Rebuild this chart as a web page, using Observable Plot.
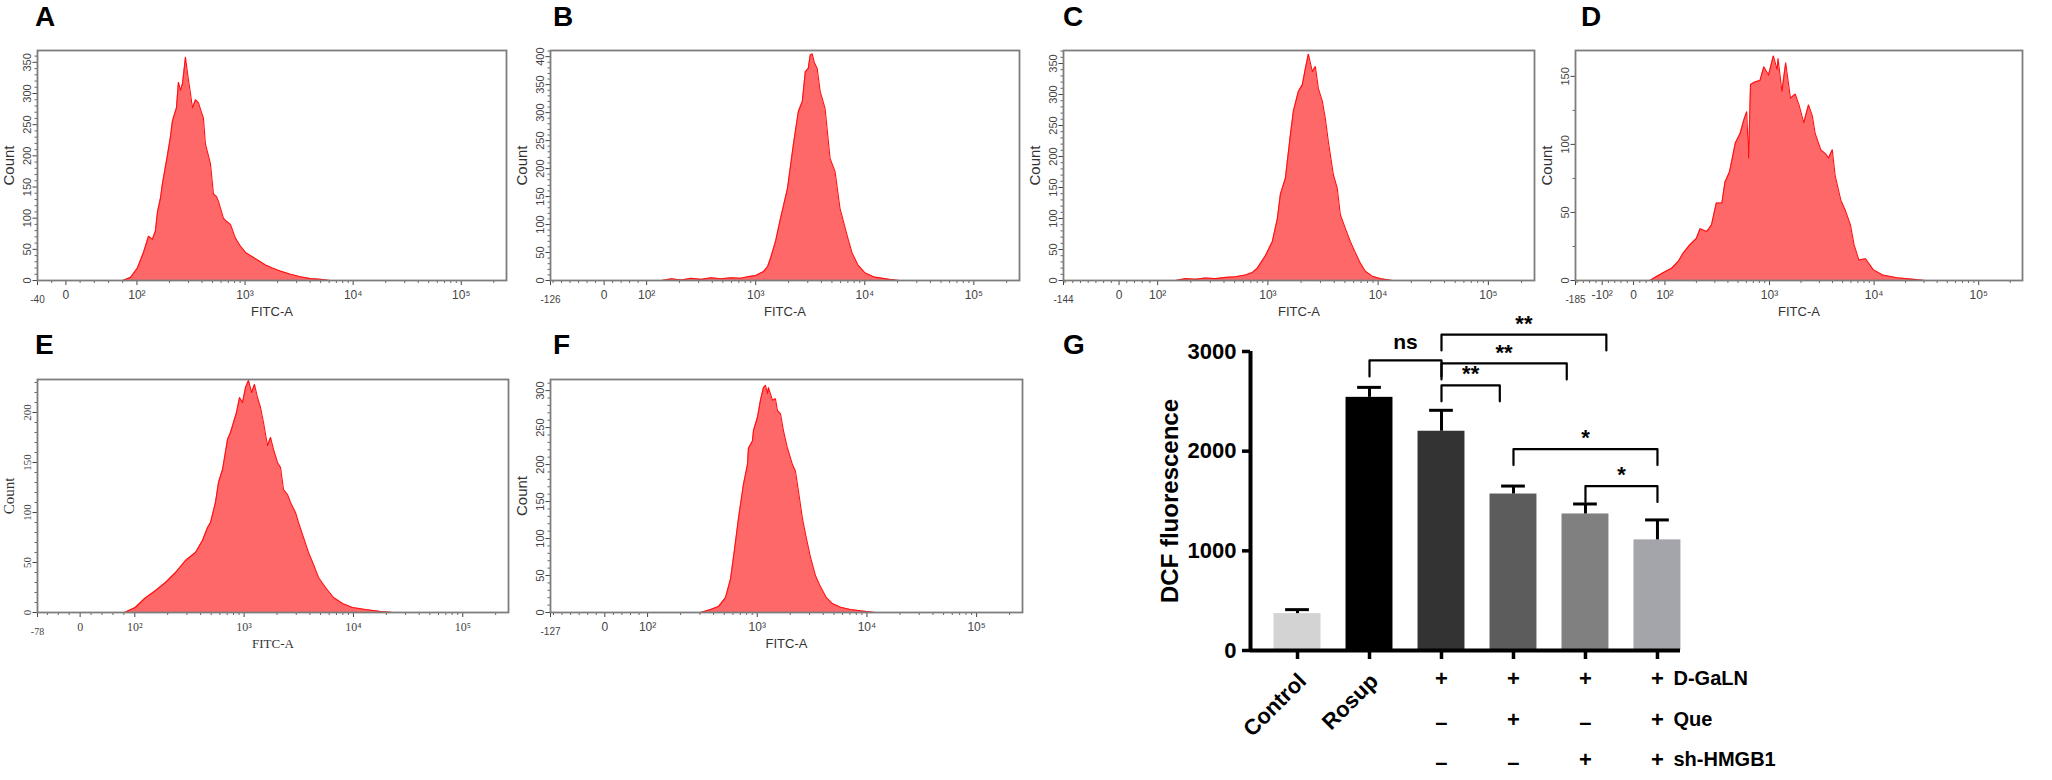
<!DOCTYPE html>
<html><head><meta charset="utf-8">
<script src="https://cdn.jsdelivr.net/npm/d3@7"></script>
<script src="https://cdn.jsdelivr.net/npm/@observablehq/plot@0.6"></script>
<style>
body{margin:0;background:#fff;}
#fig{position:relative;width:2052px;height:780px;overflow:hidden;background:#fff;font-family:"Liberation Sans",Arial,sans-serif;}
#fig svg{position:absolute;}
.lab{position:absolute;font-weight:bold;font-size:28px;line-height:28px;color:#000;font-family:"Liberation Sans",Arial,sans-serif;}
</style></head><body><div id="fig"></div>
<script>
// ---------------- DATA ----------------
const panelNames = ["A","B","C","D","E","F","G"];
// flow histograms: FITC-A intensity vs count
const histA_fitc = [80,91,101,115,128,139,148,155,165,172,191,204,213,232,242,253,264,281,300,313,326,348,371,395,412,430,459,479,510,544,568,631,673,733,815,907,1009,1171,1330,1544,1793,2126,2630,3255,4027,4983,6166];
const histA_count = [0,5,20,45,71,66,79,110,132,155,200,230,256,277,318,305,316,358,321,300,277,290,285,270,261,219,200,187,139,135,127,100,95,90,68,55,45,38,32,25,20,15,10,6,3,2,0];
const histB_fitc = [137,169,208,256,316,389,481,593,731,864,1000,1182,1286,1369,1520,1688,1954,2215,2460,2675,2848,3032,3162,3297,3439,3661,3899,4329,4806,5337,5926,6857,7620,8636,10000,12330,16870,20800];
const histB_count = [0,3,1,4,2,5,3,5,4,7,9,16,25,40,70,111,164,243,302,320,373,379,403,405,390,379,338,307,218,195,129,82,50,28,14,6,2,0];
const histC_fitc = [145,179,220,271,334,412,507,625,724,803,949,1098,1219,1298,1441,1600,1703,1890,2055,2188,2329,2532,2696,2870,3120,3321,3536,3925,4267,4543,5043,5598,6214,6896,7656,8859,10470,13450];
const histC_count = [0,3,2,4,3,5,6,9,13,20,40,63,100,139,165,235,273,305,316,342,365,337,345,310,289,261,224,171,148,106,84,63,45,28,15,7,3,0];
const histD_fitc = [52,73,97,116,134,149,172,200,217,251,279,310,351,374,415,471,523,568,605,631,658,730,811,882,979,1087,1182,1207,1313,1427,1585,1760,1913,2125,2359,2565,2732,3097,3439,3661,3981,4240,4807,5339,5927,6445,7154,8283,9790,12070,16530,22620,30970];
const histD_count = [0,3,6,9,14,20,26,31,38,36,41,57,57,72,80,101,108,118,124,90,144,146,147,157,151,165,155,163,139,160,134,137,129,116,129,121,108,96,93,90,96,77,59,51,41,26,15,16,8,4,2,1,0];
const histE_fitc = [81,101,123,155,191,236,291,359,416,463,493,547,583,635,705,751,800,852,908,967,1030,1097,1169,1245,1326,1413,1505,1637,1744,1858,2021,2153,2294,2495,2658,2953,3145,3495,3884,4314,4794,5556,6576,7948,9810,12900,17700,23280];
const histE_count = [0,5,14,22,30,40,52,60,72,85,90,110,130,143,173,180,190,200,215,210,225,232,220,228,215,205,190,167,175,163,150,145,123,118,110,100,90,75,60,48,35,25,15,9,5,3,1,0];
const histF_fitc = [304,375,443,513,570,620,674,748,814,831,904,924,1004,1070,1139,1188,1239,1265,1376,1465,1528,1627,1733,1885,1925,2094,2230,2375,2583,2809,3055,3393,3768,4274,4848,5734,7073,9100,11950];
const histF_count = [0,4,8,20,45,85,127,173,200,222,232,246,264,287,304,307,296,304,287,289,273,269,246,222,218,200,191,164,127,100,75,50,35,20,12,7,4,2,0];
const axisMinValues = [-40,-126,-144,-185,-78,-127];   // lowest FITC-A value shown on each axis
const axisMaxValue = 262144;
const countMax = [369,411,371,169,233,315];
const xTickValues = [0,100,1000,10000,100000];
const xTickLabels = ["0","10²","10³","10⁴","10⁵"];
const extraNegTickValues = [[],[],[],[-100],[],[]];
const extraNegTickLabels = [[],[],[],["-10²"],[],[]];
// bar chart G
const barGroups = ["Control","Rosup","","","",""];
const barValues = [370,2540,2200,1570,1370,1110];
const barErrorTop = [410,2640,2410,1650,1470,1310];
const yTicksG = [0,1000,2000,3000];
const rowNames = ["D-GaLN","Que","sh-HMGB1"];
const rowDGaLN = ["","","+","+","+","+"];
const rowQue = ["","","–","+","–","+"];
const rowSh = ["","","–","–","+","+"];
const sigFrom = [1,2,2,2,3,4];
const sigTo = [2,2.81,3.74,4.29,5,5];
const sigLevel = [2910,2660,2880,3170,2020,1650];
const sigText = ["ns","**","**","**","*","*"];

// ---------------- LAYOUT / STYLE ----------------
const histFitc = [histA_fitc,histB_fitc,histC_fitc,histD_fitc,histE_fitc,histF_fitc];
const histCount = [histA_count,histB_count,histC_count,histD_count,histE_count,histF_count];
const histLayout = [
  {x:37,  y:50,  w:469, h:230, d0:0.657, minor:10},
  {x:550, y:50,  w:469, h:230, d0:0.39,  minor:10},
  {x:1063,y:50,  w:471, h:230, d0:0.35,  minor:10},
  {x:1575,y:50,  w:447, h:230, d0:0.30,  minor:25},
  {x:37,  y:379, w:471, h:233, d0:0.50,  minor:10},
  {x:550, y:379, w:472, h:233, d0:0.39,  minor:10}
];
const labelPos = [[35,3],[553,3],[1063,3],[1581,3],[35,331],[553,331],[1063,331]];
const barFill = ["#d3d3d3","#000000","#333333","#5c5c5c","#808080","#a4a4ab"];
const rowDy = [28, 69, 109];
const fig = document.getElementById("fig");

function biex(d0){ return v => (v < 100 ? d0 * v / 100 : d0 + Math.log10(v / 100)); }

function histogram(k){
  const L = histLayout[k], T = biex(L.d0), min = axisMinValues[k];
  const ml = 46, mr = 8, mt = 8, mb = 48;
  const pts = histFitc[k].map((f,i) => ({x: T(f), y: histCount[k][i]}));
  const majVals = [...extraNegTickValues[k], ...xTickValues];
  const majLabs = [...extraNegTickLabels[k], ...xTickLabels];
  const labelOf = new Map(majVals.map((v,i) => [T(v), majLabs[i]]));
  const minors = [];
  for (let v = Math.ceil(min/20)*20; v < 100; v += 20) if (v !== 0 && !majVals.includes(v)) minors.push(T(v));
  for (const e of [100,1000,10000,100000]) for (let m = 2; m <= 9; m++) if (m*e <= axisMaxValue) minors.push(T(m*e));
  const yMaj = d3.range(0, countMax[k] + 1e-9, 50);
  const yMin = d3.range(0, countMax[k], L.minor).filter(v => v % 50 !== 0);
  const font = k === 4 ? "'Liberation Serif','Times New Roman',serif" : "'Liberation Sans',Arial,sans-serif";
  const svg = Plot.plot({
    width: L.w + ml + mr, height: L.h + mt + mb,
    marginLeft: ml, marginRight: mr, marginTop: mt, marginBottom: mb,
    style: {fontFamily: font, background: "transparent", overflow: "visible"},
    x: {domain: [T(min), T(axisMaxValue)], axis: null},
    y: {domain: [0, countMax[k]], axis: null},
    marks: [
      Plot.areaY(pts, {x: "x", y: "y", fill: "#ff6868"}),
      Plot.lineY(pts, {x: "x", y: "y", stroke: "#ff1010", strokeWidth: 1.1}),
      Plot.axisX(minors, {tickSize: 3, tickFormat: () => "", color: "#666", label: null}),
      Plot.axisX(majVals.map(T), {tickSize: 5, tickPadding: 5, fontSize: 12, tickFormat: t => labelOf.get(t), color: "#444", label: null}),
      Plot.axisX([T(min)], {tickSize: 5, tickPadding: 10, fontSize: 10, tickFormat: () => String(min), color: "#444", label: null}),
      Plot.axisY(yMin, {tickSize: 2.5, tickFormat: () => "", color: "#666", label: null}),
      Plot.axisY(yMaj, {tickSize: 4.5, tickPadding: 2, tickRotate: -90, fontSize: 11, color: "#444", label: null}),
      Plot.text(["Count"], {text: d => d, frameAnchor: "left", dx: -28, rotate: -90, fontSize: 15, fill: "#333", textAnchor: "middle", lineAnchor: "middle"}),
      Plot.text(["FITC-A"], {text: d => d, frameAnchor: "bottom", dy: 31, fontSize: 13, fill: "#333", lineAnchor: "middle"}),
      Plot.frame({stroke: "#7d7d7d", strokeWidth: 1.8})
    ]
  });
  svg.style.left = (L.x - ml) + "px";
  svg.style.top = (L.y - mt) + "px";
  fig.appendChild(svg);
}
for (let k = 0; k < 6; k++) histogram(k);

// ---------------- Panel G ----------------
const xDom = [-0.653, 5.32];
const rowsG = barGroups.map((name,i) => ({i, name, v: barValues[i], e: barErrorTop[i]}));
const leg = 160;
const brk = [];
sigFrom.forEach((a,k) => { const b = sigTo[k], y = sigLevel[k];
  brk.push({k, x: a, y: y - leg}, {k, x: a, y}, {k, x: b, y}, {k, x: b, y: y - leg}); });
const sigMid = sigFrom.map((a,k) => ({x: (a + sigTo[k]) / 2, y: sigLevel[k], t: sigText[k]}));
const signRows = [rowDGaLN, rowQue, rowSh];
const G = Plot.plot({
  width: 760, height: 480, marginLeft: 150, marginRight: 180, marginTop: 51, marginBottom: 130,
  x: {domain: xDom, axis: null},
  y: {domain: [0, 3000], axis: null},
  color: {type: "identity"},
  style: {fontFamily: "'Liberation Sans',Arial,sans-serif", fontWeight: "bold", color: "#000", background: "transparent", overflow: "visible"},
  marks: [
    Plot.rectY(rowsG, {x1: d => d.i - 0.326, x2: d => d.i + 0.326, y1: 0, y2: "v", fill: d => barFill[d.i]}),
    Plot.ruleX(rowsG, {x: "i", y1: "v", y2: "e", stroke: "#000", strokeWidth: 3}),
    Plot.ruleY(rowsG, {y: "e", x1: d => d.i - 0.165, x2: d => d.i + 0.165, stroke: "#000", strokeWidth: 3}),
    Plot.ruleY([0], {stroke: "#000", strokeWidth: 4}),
    Plot.ruleX([xDom[0]], {y1: 0, y2: 3000, stroke: "#000", strokeWidth: 4}),
    Plot.axisY(yTicksG, {tickSize: 8, tickPadding: 6, fontSize: 22, fontWeight: "bold", color: "#000", strokeWidth: 3.5, label: null, tickFormat: d => String(d)}),
    Plot.axisX(rowsG.map(d => d.i), {tickSize: 9, tickFormat: () => "", color: "#000", strokeWidth: 3.5, label: null}),
    Plot.text(rowsG.filter(d => d.name), {x: "i", y: 0, text: "name", rotate: -45, textAnchor: "end", dx: 5, dy: 27, fontSize: 22, fontWeight: "bold"}),
    Plot.text(["DCF fluorescence"], {text: d => d, frameAnchor: "left", dx: -80, rotate: -90, fontSize: 24, fontWeight: "bold", textAnchor: "middle", lineAnchor: "middle"}),
    Plot.line(brk, {x: "x", y: "y", z: "k", stroke: "#000", strokeWidth: 2.2}),
    Plot.text(sigMid.filter(d => d.t === "ns"), {x: "x", y: "y", text: "t", dy: -18, fontSize: 21, fontWeight: "bold"}),
    Plot.text(sigMid.filter(d => d.t !== "ns"), {x: "x", y: "y", text: "t", dy: -11, fontSize: 22, fontWeight: "bold"}),
    ...signRows.map((row,r) => Plot.text(rowsG.filter(d => row[d.i] === "+"), {x: "i", y: 0, text: d => row[d.i], dy: rowDy[r], fontSize: 22, fontWeight: "bold"})),
    ...signRows.map((row,r) => Plot.text(rowsG.filter(d => row[d.i] === "–"), {x: "i", y: 0, text: d => row[d.i], dy: rowDy[r] + 3, fontSize: 22, fontWeight: "bold"})),
    ...rowNames.map((nm,r) => Plot.text([nm], {text: d => d, y: 0, frameAnchor: "right", dx: -7, dy: rowDy[r], textAnchor: "start", fontSize: 20, fontWeight: "bold"}))
  ]
});
G.style.left = "1100px"; G.style.top = "300px";
fig.appendChild(G);

// panel letters
panelNames.forEach((n,i) => {
  const d = document.createElement("div");
  d.className = "lab"; d.textContent = n;
  d.style.left = labelPos[i][0] + "px"; d.style.top = labelPos[i][1] + "px";
  fig.appendChild(d);
});
</script></body></html>
